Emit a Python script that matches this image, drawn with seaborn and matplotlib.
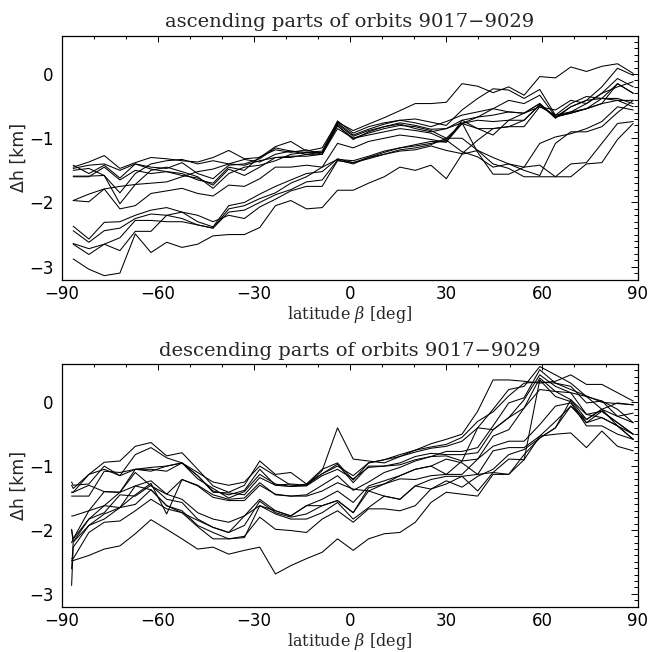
import numpy as np
import pandas as pd
import matplotlib
matplotlib.use("Agg")
import matplotlib.pyplot as plt
import seaborn as sns
from matplotlib.ticker import MultipleLocator

# ---------------- data ----------------
lat_asc = [-86.5, -81.6, -76.8, -71.9, -67.1, -62.2, -57.3, -52.5, -47.6, -42.8,
           -37.9, -33.0, -28.2, -23.3, -18.5, -13.6, -8.7, -3.9, 1.0, 5.8,
           10.7, 15.6, 20.4, 25.3, 30.1, 35.0, 39.9, 44.7, 49.6, 54.4,
           59.3, 64.2, 69.0, 73.9, 78.7, 83.6, 88.5]

asc_U1 = [-1.45,-1.37,-1.27,-1.47,-1.38,-1.30,-1.32,-1.35,-1.37,-1.30,-1.19,-1.32,-1.30,-1.13,-1.05,-1.20,-1.15,-0.75,-0.88,-0.78,-0.68,-0.57,-0.46,-0.46,-0.44,-0.15,-0.19,-0.29,-0.20,-0.33,-0.04,-0.06,0.11,0.04,0.12,0.16,0.01]
asc_U2 = [-1.47,-1.42,-1.40,-1.50,-1.40,-1.45,-1.47,-1.38,-1.55,-1.63,-1.42,-1.40,-1.32,-1.15,-1.20,-1.22,-1.20,-0.73,-0.92,-0.82,-0.76,-0.72,-0.70,-0.75,-0.80,-0.56,-0.38,-0.23,-0.25,-0.38,-0.24,-0.64,-0.59,-0.46,-0.30,-0.07,-0.20]
asc_U3 = [-1.42,-1.55,-1.42,-1.62,-1.40,-1.48,-1.52,-1.55,-1.65,-1.70,-1.45,-1.50,-1.29,-1.18,-1.22,-1.18,-1.25,-0.76,-0.95,-0.86,-0.78,-0.72,-0.76,-0.82,-0.74,-0.64,-0.59,-0.54,-0.41,-0.46,-0.33,-0.66,-0.61,-0.54,-0.38,-0.38,-0.46]
asc_U4 = [-1.50,-1.47,-1.58,-1.85,-1.55,-1.40,-1.35,-1.33,-1.40,-1.35,-1.40,-1.33,-1.37,-1.25,-1.20,-1.25,-1.22,-0.78,-0.97,-0.88,-0.82,-0.76,-0.80,-0.86,-0.85,-0.72,-0.67,-0.64,-0.59,-0.61,-0.46,-0.69,-0.51,-0.41,-0.20,0.09,-0.02]
asc_U5 = [-1.59,-1.59,-1.58,-2.02,-1.72,-1.50,-1.45,-1.52,-1.60,-1.78,-1.55,-1.45,-1.42,-1.35,-1.25,-1.22,-1.22,-0.81,-1.00,-0.92,-0.85,-0.80,-0.82,-0.88,-1.00,-0.77,-0.72,-0.74,-0.72,-0.72,-0.48,-0.67,-0.59,-0.54,-0.46,-0.15,-0.30]
asc_U6 = [-1.60,-1.60,-1.45,-1.65,-1.50,-1.55,-1.52,-1.58,-1.62,-1.73,-1.48,-1.58,-1.45,-1.30,-1.28,-1.28,-1.25,-0.85,-1.00,-0.95,-0.90,-0.85,-0.88,-0.92,-1.03,-0.77,-0.85,-0.85,-0.82,-0.82,-0.51,-0.64,-0.46,-0.35,-0.38,-0.41,-0.51]
asc_M1 = [-1.97,-1.87,-1.79,-2.10,-2.05,-1.86,-1.82,-1.78,-1.86,-1.90,-1.73,-1.75,-1.63,-1.45,-1.45,-1.42,-1.45,-1.08,-1.15,-1.05,-1.00,-0.95,-0.98,-1.02,-1.06,-0.77,-0.67,-0.54,-0.59,-0.61,-0.46,-0.67,-0.51,-0.41,-0.38,-0.15,-0.30]
asc_M2 = [-1.97,-1.99,-1.79,-1.75,-1.72,-1.70,-1.68,-1.60,-1.52,-1.48,-1.40,-1.42,-1.35,-1.30,-1.30,-1.25,-1.25,-0.80,-1.02,-0.90,-0.82,-0.78,-0.85,-0.90,-0.85,-0.76,-1.22,-1.56,-1.56,-1.45,-1.08,-0.98,-0.93,-0.85,-0.74,-0.51,-0.56]
asc_L1 = [-2.37,-2.57,-2.31,-2.30,-2.20,-2.12,-2.08,-2.15,-2.30,-2.38,-2.05,-2.00,-1.87,-1.75,-1.65,-1.55,-1.52,-1.32,-1.38,-1.30,-1.25,-1.18,-1.15,-1.10,-1.00,-1.00,-1.19,-1.40,-1.47,-1.60,-1.60,-1.60,-1.40,-1.38,-1.08,-0.77,-0.74]
asc_L2 = [-2.44,-2.62,-2.44,-2.40,-2.25,-2.18,-2.20,-2.25,-2.35,-2.40,-2.10,-2.05,-1.94,-1.85,-1.70,-1.60,-1.45,-1.33,-1.35,-1.28,-1.20,-1.15,-1.12,-1.08,-1.03,-1.21,-1.29,-1.45,-1.40,-1.50,-1.58,-1.08,-0.90,-0.90,-0.82,-0.60,-0.41]
asc_L3 = [-2.64,-2.72,-2.65,-2.55,-2.28,-2.28,-2.30,-2.30,-2.35,-2.40,-2.15,-2.12,-2.00,-1.88,-1.80,-1.68,-1.65,-1.34,-1.40,-1.30,-1.22,-1.15,-1.10,-1.05,-1.06,-0.72,-0.85,-0.95,-0.72,-0.61,-0.51,-0.56,-0.41,-0.46,-0.30,-0.20,-0.12]
asc_L4 = [-2.65,-2.81,-2.65,-2.75,-2.45,-2.45,-2.20,-2.15,-2.20,-2.30,-2.20,-2.25,-2.07,-1.95,-1.82,-1.75,-1.75,-1.35,-1.38,-1.32,-1.25,-1.20,-1.18,-1.12,-1.19,-1.24,-1.03,-0.85,-0.82,-0.72,-0.48,-0.67,-0.61,-0.54,-0.46,-0.41,-0.41]
asc_B  = [-2.88,-3.04,-3.14,-3.10,-2.49,-2.78,-2.62,-2.70,-2.65,-2.52,-2.50,-2.50,-2.39,-2.05,-1.97,-2.10,-2.08,-1.81,-1.81,-1.70,-1.60,-1.45,-1.50,-1.42,-1.63,-1.25,-1.19,-1.30,-1.40,-1.45,-1.42,-1.60,-1.60,-1.40,-1.38,-1.02,-0.77]

lat_desc = [-87.0, -86.5, -81.6, -76.8, -71.9, -67.1, -62.2, -57.3, -52.5, -47.6, -42.8,
            -37.9, -33.0, -28.2, -23.3, -18.5, -13.6, -8.7, -3.9, 1.0, 5.8,
            10.7, 15.6, 20.4, 25.3, 30.1, 35.0, 39.9, 44.7, 49.6, 54.4,
            59.3, 64.2, 69.0, 73.9, 78.7, 83.6, 88.5]

desc_D1  = [-1.41,-1.41,-1.13,-0.94,-0.92,-0.69,-0.63,-0.84,-0.79,-1.05,-1.31,-1.41,-1.30,-0.92,-1.13,-1.10,-1.28,-1.05,-0.95,-1.22,-0.95,-0.90,-0.82,-0.75,-0.65,-0.58,-0.50,-0.14,0.35,0.35,0.33,0.30,0.33,0.43,0.28,0.28,0.15,0.02]
desc_D2  = [-1.25,-1.30,-1.28,-1.00,-1.15,-0.82,-0.71,-0.87,-0.95,-1.15,-1.39,-1.45,-1.38,-1.05,-1.30,-1.28,-1.30,-1.07,-0.40,-0.89,-0.92,-0.95,-0.85,-0.78,-0.72,-0.69,-0.61,-0.40,-0.11,0.20,0.25,0.56,0.43,0.30,0.09,-0.11,-0.01,-0.04]
desc_D3  = [-1.47,-1.47,-1.47,-1.08,-1.10,-1.05,-1.02,-1.00,-0.95,-1.20,-1.35,-1.50,-1.40,-1.13,-1.28,-1.32,-1.28,-1.12,-0.97,-1.26,-1.00,-1.00,-0.98,-0.90,-0.85,-0.77,-0.77,-0.71,-0.37,-0.01,0.07,0.51,0.30,0.25,-0.01,0.02,-0.22,-0.32]
desc_D4  = [-1.78,-1.78,-1.70,-1.40,-1.41,-1.05,-1.05,-1.08,-0.95,-1.15,-1.41,-1.42,-1.45,-1.18,-1.30,-1.32,-1.31,-1.15,-1.05,-1.20,-1.02,-1.00,-0.95,-0.85,-0.80,-0.82,-0.82,-0.79,-0.43,-0.24,0.04,0.43,0.25,0.15,-0.19,-0.14,-0.32,-0.50]
desc_D5  = [-1.41,-1.41,-1.30,-1.40,-1.41,-1.10,-1.31,-1.44,-1.21,-1.30,-1.45,-1.52,-1.50,-1.26,-1.45,-1.47,-1.45,-1.30,-1.15,-1.38,-1.25,-1.10,-1.02,-0.92,-0.85,-0.84,-0.92,-0.89,-0.53,-0.43,-0.09,0.38,0.17,0.04,-0.27,-0.11,-0.37,-0.58]
desc_D6  = [-1.99,-2.14,-1.70,-1.62,-1.41,-1.31,-1.23,-1.44,-1.52,-1.73,-1.83,-1.88,-1.78,-1.52,-1.70,-1.78,-1.62,-1.52,-1.39,-1.57,-1.31,-1.23,-1.15,-1.05,-1.00,-0.89,-0.95,-1.13,-1.10,-0.89,-0.90,0.35,0.09,0.01,-0.32,-0.24,-0.37,-0.50]
desc_D7  = [-2.61,-2.19,-1.83,-1.73,-1.45,-1.47,-1.30,-1.52,-1.57,-1.83,-1.96,-2.04,-1.93,-1.55,-1.73,-1.80,-1.75,-1.62,-1.54,-1.73,-1.34,-1.28,-1.20,-1.21,-1.15,-1.13,-1.13,-0.89,-0.69,-0.61,-0.61,-0.35,-0.06,-0.01,-0.37,-0.37,-0.50,-0.58]
desc_D8  = [-2.87,-2.27,-1.93,-1.83,-1.65,-1.60,-1.37,-1.62,-1.70,-1.93,-2.04,-2.14,-2.12,-1.62,-1.75,-1.83,-1.83,-1.73,-1.57,-1.83,-1.65,-1.47,-1.52,-1.31,-1.21,-1.16,-1.16,-1.13,-0.76,-0.71,-0.71,-0.53,-0.30,-0.06,-0.32,-0.14,-0.32,-0.50]
desc_D9  = [-2.45,-2.45,-2.04,-1.88,-1.86,-1.70,-1.52,-1.67,-1.73,-1.95,-2.14,-2.14,-2.10,-1.80,-1.99,-2.01,-2.04,-1.83,-1.70,-1.88,-1.67,-1.67,-1.70,-1.62,-1.36,-1.23,-1.33,-1.16,-1.05,-0.82,-0.74,-0.56,-0.40,0.04,-0.19,-0.24,-0.37,-0.58]
desc_D10 = [-2.00,-2.19,-1.93,-1.75,-1.65,-1.45,-1.27,-1.75,-1.21,-1.31,-1.49,-1.54,-1.54,-1.30,-1.44,-1.47,-1.47,-1.39,-1.26,-1.36,-1.39,-1.47,-1.52,-1.31,-1.36,-1.28,-1.16,-1.39,-1.10,-1.13,-0.82,-0.56,-0.40,-0.06,-0.27,-0.11,-0.22,-0.17]
desc_D11 = [-2.20,-2.14,-1.83,-1.62,-1.65,-1.31,-1.37,-1.62,-1.73,-1.85,-1.96,-2.04,-1.78,-1.62,-1.70,-1.78,-1.62,-1.62,-1.54,-1.73,-1.39,-1.28,-1.15,-1.05,-1.00,-1.13,-0.92,-0.40,-0.43,-0.24,-0.09,0.20,0.17,0.15,0.09,0.02,-0.11,-0.32]
desc_D12 = [-1.30,-1.35,-1.13,-1.05,-1.15,-1.05,-1.08,-1.00,-0.95,-1.10,-1.25,-1.30,-1.25,-1.00,-1.15,-1.30,-1.30,-1.12,-1.00,-1.15,-0.95,-0.90,-0.85,-0.75,-0.70,-0.66,-0.55,-0.30,-0.15,0.10,0.30,0.32,0.30,0.20,0.10,0.00,-0.02,-0.04]
desc_DB  = [-2.48,-2.48,-2.40,-2.30,-2.25,-2.06,-1.84,-1.99,-2.14,-2.30,-2.27,-2.38,-2.32,-2.27,-2.69,-2.56,-2.45,-2.35,-2.14,-2.32,-2.14,-2.06,-2.04,-1.88,-1.57,-1.41,-1.44,-1.47,-1.13,-1.13,-0.90,-0.53,-0.50,-0.48,-0.71,-0.45,-0.69,-0.76]

asc_series = {"U1": asc_U1, "U2": asc_U2, "U3": asc_U3, "U4": asc_U4, "U5": asc_U5,
              "U6": asc_U6, "M1": asc_M1, "M2": asc_M2, "L1": asc_L1, "L2": asc_L2,
              "L3": asc_L3, "L4": asc_L4, "B": asc_B}
desc_series = {"D1": desc_D1, "D2": desc_D2, "D3": desc_D3, "D4": desc_D4, "D5": desc_D5,
               "D6": desc_D6, "D7": desc_D7, "D8": desc_D8, "D9": desc_D9, "D10": desc_D10,
               "D11": desc_D11, "D12": desc_D12, "DB": desc_DB}

titles = ["ascending parts of orbits 9017\u22129029",
          "descending parts of orbits 9017\u22129029"]
xlabel = "latitude $\\beta$ [deg]"
ylabel = "\u0394h [km]"
xticks = [-90, -60, -30, 0, 30, 60, 90]
yticks = [-3, -2, -1, 0]


def long_df(lat, series):
    rows = []
    for name, vals in series.items():
        for x, y in zip(lat, vals):
            rows.append((name, x, y))
    return pd.DataFrame(rows, columns=["orbit", "lat", "dh"])


# ---------------- figure ----------------
sns.set_style("white")
plt.rcParams["font.family"] = ["DejaVu Sans"]
plt.rcParams["mathtext.fontset"] = "dejavuserif"

serif = ["DejaVu Serif"]

fig = plt.figure(figsize=(6.49, 6.52), dpi=100)
ax1 = fig.add_axes([62 / 649, 1 - 279.5 / 652, (638 - 62) / 649, (279.5 - 35.5) / 652])
ax2 = fig.add_axes([62 / 649, 1 - 606.5 / 652, (638 - 62) / 649, (606.5 - 364) / 652])

for ax, lat, series, title in [(ax1, lat_asc, asc_series, titles[0]),
                               (ax2, lat_desc, desc_series, titles[1])]:
    df = long_df(lat, series)
    sns.lineplot(data=df, x="lat", y="dh", units="orbit", estimator=None,
                 color="black", linewidth=0.75, ax=ax, legend=False, sort=False)
    ax.set_xlim(-90, 90)
    ax.set_ylim(-3.2, 0.6)
    ax.set_xticks(xticks)
    ax.set_xticklabels([str(t).replace("-", "\u2212") for t in xticks])
    ax.set_yticks(yticks)
    ax.set_yticklabels([str(t).replace("-", "\u2212") for t in yticks])
    ax.xaxis.set_minor_locator(MultipleLocator(10))
    ax.yaxis.set_minor_locator(MultipleLocator(0.1))
    ax.tick_params(which="both", direction="in", top=True, right=True,
                   width=0.7, colors="black", labelsize=12)
    ax.tick_params(axis="x", which="major", length=4.0, pad=4)
    ax.tick_params(axis="x", which="minor", length=2.2)
    ax.tick_params(axis="y", which="major", length=5.0, pad=6)
    ax.tick_params(axis="y", which="minor", length=3.0)
    for s in ax.spines.values():
        s.set_linewidth(0.9)
        s.set_color("black")
    ax.set_title(title, fontsize=14, family=serif, pad=6)
    ax.set_xlabel(xlabel, fontsize=11.5, family=serif, labelpad=1)
    ax.set_ylabel(ylabel, fontsize=12.5, labelpad=1)

fig.savefig("out.png", dpi=100)
